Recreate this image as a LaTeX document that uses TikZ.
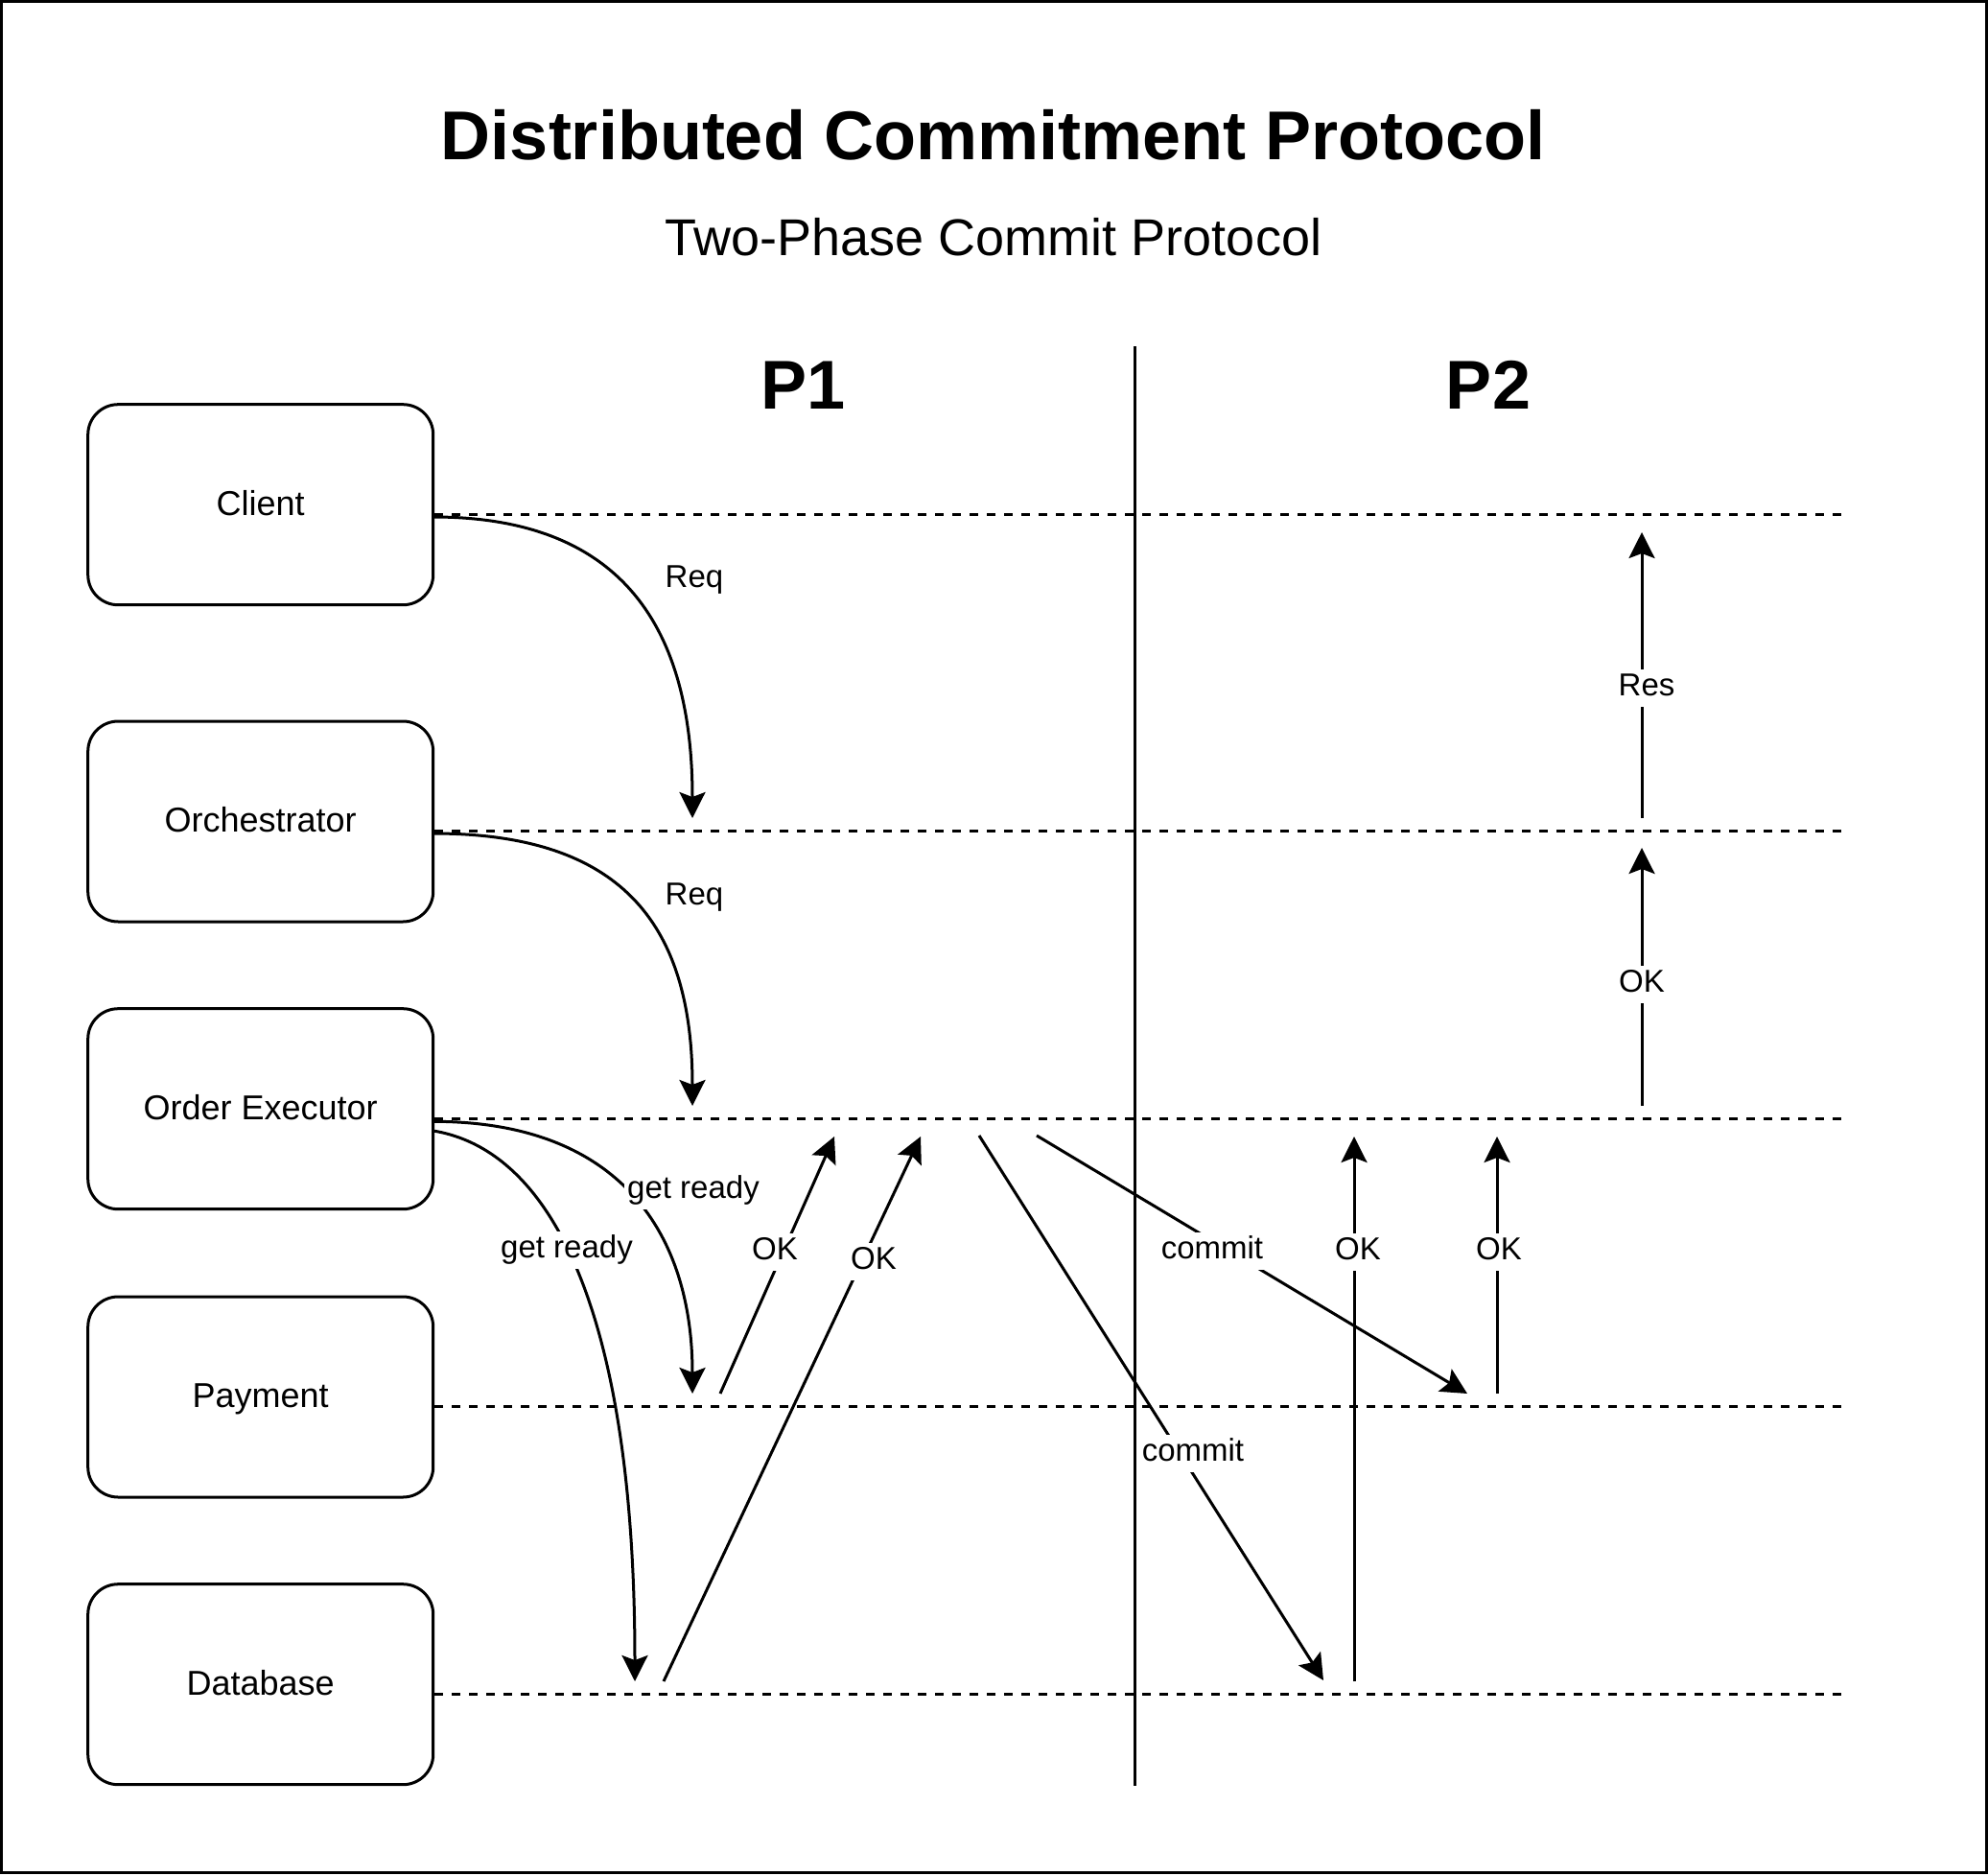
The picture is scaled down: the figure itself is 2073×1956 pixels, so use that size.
\documentclass[tikz,border=0pt]{standalone}
\usepackage{fontspec}
\setmainfont{Liberation Sans}
\usetikzlibrary{arrows.meta}
\begin{document}
\begin{tikzpicture}[x=1pt,y=-1pt,
  box/.style={draw, line width=3pt, rounded corners=31.5pt, minimum width=360pt, minimum height=209pt,
    font=\fontsize{36}{43}\selectfont, text height=25.8pt, text depth=3pt, inner sep=0pt},
  lane/.style={line width=3pt, dash pattern=on 9pt off 9pt},
  msg/.style={line width=3pt, -{Stealth[length=27pt,width=27pt,inset=5pt]}},
  lbl/.style={fill=white, font=\fontsize{33}{40}\selectfont, text height=24.75pt, text depth=8.25pt, inner sep=3pt},
  big/.style={font=\fontsize{72}{86}\selectfont\bfseries, anchor=base, inner sep=0pt},
]
\useasboundingbox (0,0) rectangle (2073,1956);
\draw[line width=3pt] (1.5,1.5) rectangle (2071,1952.5);

% titles
\node[big] (title) at (1036,167) {Distributed Commitment Protocol};
\node[font=\fontsize{54}{64}\selectfont, anchor=base, inner sep=0pt] (subtitle) at (1036,266) {Two-Phase Commit Protocol};
\node[big] (p1) at (838,426.5) {P1};
\node[big] (p2) at (1552,426.5) {P2};

% divider
\coordinate (divtop) at (1183,361);
\coordinate (divbot) at (1183,1862);
\draw[line width=3pt] (divtop) -- (divbot);

% boxes
\node[box] (client) at (271.7,526.2) {Client};
\node[box] (orch) at (271.7,856.5) {Orchestrator};
\node[box] (oe) at (271.7,1156.2) {Order Executor};
\node[box] (pay) at (271.7,1456.5) {Payment};
\node[box] (db) at (271.7,1756.2) {Database};

% lanes
\coordinate (lc) at (1920,536.7);
\coordinate (lo) at (1920,866.7);
\coordinate (le) at (1920,1166.7);
\coordinate (lp) at (1920,1466.7);
\coordinate (ld) at (1920,1766);
\draw[lane] (client.east |- lc) -- (lc);
\draw[lane] (orch.east |- lo) -- (lo);
\draw[lane] (oe.east |- le) -- (le);
\draw[lane] (pay.east |- lp) -- (lp);
\draw[lane] (db.east |- ld) -- (ld);

% endpoints
\coordinate (r1s) at (451.7,539);
\coordinate (r1e) at (722,853);
\coordinate (r2s) at (451.7,869);
\coordinate (r2e) at (722,1153);
\coordinate (g1s) at (451.7,1169.3);
\coordinate (g1e) at (722,1453);
\coordinate (g2s) at (451.7,1179);
\coordinate (g2e) at (662,1753);
\coordinate (k1s) at (751,1453);
\coordinate (k1e) at (870,1185);
\coordinate (k2s) at (692,1753);
\coordinate (k2e) at (960,1185);
\coordinate (m1s) at (1021,1184);
\coordinate (m1e) at (1380,1752);
\coordinate (m2s) at (1081,1184);
\coordinate (m2e) at (1530,1453);
\coordinate (k3s) at (1412,1753);
\coordinate (k3e) at (1412,1185);
\coordinate (k4s) at (1561,1453);
\coordinate (k4e) at (1561,1185);
\coordinate (k5s) at (1712,1153);
\coordinate (k5e) at (1712,884);
\coordinate (ress) at (1712,853);
\coordinate (rese) at (1712,555);

% messages
\draw[msg] (r1s) .. controls (645,539) and (722,650) .. (r1e);
\draw[msg] (r2s) .. controls (645,869) and (722,960) .. (r2e);
\draw[msg] (g1s) .. controls (650,1169.3) and (722,1290) .. (g1e);
\draw[msg] (g2s) .. controls (580,1200) and (662,1380) .. (g2e);
\draw[msg] (k1s) -- (k1e);
\draw[msg] (k2s) -- (k2e);
\draw[msg] (m1s) -- (m1e);
\draw[msg] (m2s) -- (m2e);
\draw[msg] (k3s) -- (k3e);
\draw[msg] (k4s) -- (k4e);
\draw[msg] (k5s) -- (k5e);
\draw[msg] (ress) -- (rese);

% labels
\node[lbl] (lreq1) at (724,604) {Req};
\node[lbl] (lreq2) at (724,935) {Req};
\node[lbl] (lgr1) at (723,1241) {get ready};
\node[lbl] (lgr2) at (591,1303) {get ready};
\node[lbl] (lok1) at (808,1305) {OK};
\node[lbl] (lok2) at (911,1315) {OK};
\node[lbl] (lcm2) at (1264,1304) {commit};
\node[lbl] (lcm1) at (1244,1515) {commit};
\node[lbl] (lok3) at (1416,1305) {OK};
\node[lbl] (lok4) at (1563,1305) {OK};
\node[lbl] (lok5) at (1712,1026) {OK};
\node[lbl] (lres) at (1717,717) {Res};
\end{tikzpicture}
\end{document}
